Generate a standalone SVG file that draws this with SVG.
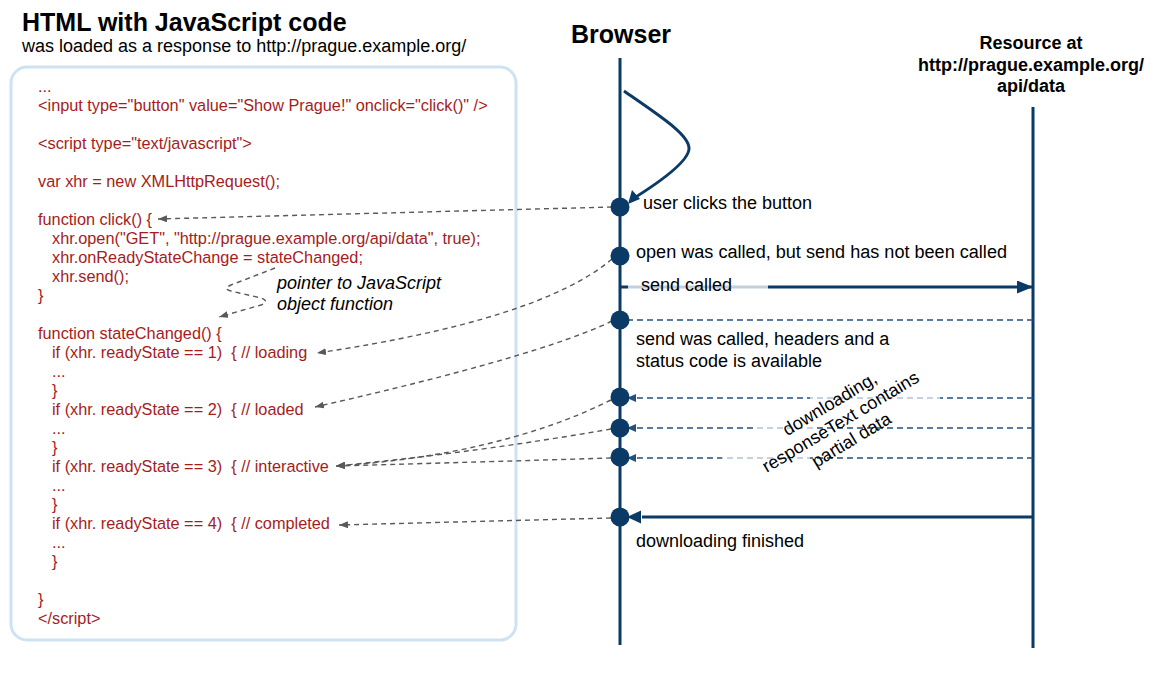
<svg xmlns="http://www.w3.org/2000/svg" width="1153" height="675" viewBox="0 0 1153 675">
<defs>
<style>
text{font-family:"Liberation Sans",Arial,Helvetica,sans-serif}
.title{font-size:25px;font-weight:bold;fill:#000}
.sub{font-size:18px;fill:#000}
.code{font-size:16.3px;fill:#a61c1c;white-space:pre}
.hdr{font-size:25px;font-weight:bold;fill:#000}
.rhdr{font-size:18px;font-weight:bold;fill:#000}
.lbl{font-size:18px;fill:#000}
.note{font-size:18px;font-style:italic;fill:#000}
.life{stroke:#0b3a66;stroke-width:3;fill:none}
.dot{fill:#0b3a66}
.dash{stroke:#595959;stroke-width:1.4;stroke-dasharray:5 4;fill:none;marker-end:url(#ga)}
.hdash{stroke:#25507d;stroke-width:1.5;stroke-dasharray:6 4;fill:none}
</style>
<marker id="ga" markerUnits="userSpaceOnUse" markerWidth="9" markerHeight="7" refX="9" refY="3.5" orient="auto"><path d="M0,0 L9,3.5 L0,7 z" fill="#595959"/></marker>
<marker id="na" markerUnits="userSpaceOnUse" markerWidth="16" markerHeight="13" refX="16" refY="6.5" orient="auto"><path d="M0,0 L16,6.5 L0,13 z" fill="#0b3a66"/></marker>
<marker id="ns" markerUnits="userSpaceOnUse" markerWidth="9" markerHeight="8" refX="9" refY="4" orient="auto"><path d="M0,0 L9,4 L0,8 z" fill="#25507d"/></marker>
</defs>
<rect width="1153" height="675" fill="#fff"/>

<g id="title">
<text class="title" x="22" y="31">HTML with JavaScript code</text>
<text class="sub" x="22" y="52">was loaded as a response to http://prague.example.org/</text>
</g>

<g id="code-box">
<rect x="11" y="67" width="505" height="573" rx="16" ry="16" fill="none" stroke="#cfe2f3" stroke-width="3"/>
<text class="code" x="38" y="92">...</text>
<text class="code" x="38" y="111">&lt;input type="button" value="Show Prague!" onclick="click()" /&gt;</text>
<text class="code" x="38" y="149">&lt;script type="text/javascript"&gt;</text>
<text class="code" x="38" y="187">var xhr = new XMLHttpRequest();</text>
<text class="code" x="38" y="225">function click() {</text>
<text class="code" x="52" y="244">xhr.open("GET", "http://prague.example.org/api/data", true);</text>
<text class="code" x="52" y="263">xhr.onReadyStateChange = stateChanged;</text>
<text class="code" x="52" y="282">xhr.send();</text>
<text class="code" x="38" y="301">}</text>
<text class="code" x="38" y="339">function stateChanged() {</text>
<text class="code" x="52" y="358">if (xhr. readyState == 1)  { // loading</text>
<text class="code" x="52" y="377">...</text>
<text class="code" x="52" y="396">}</text>
<text class="code" x="52" y="415">if (xhr. readyState == 2)  { // loaded</text>
<text class="code" x="52" y="434">...</text>
<text class="code" x="52" y="453">}</text>
<text class="code" x="52" y="472">if (xhr. readyState == 3)  { // interactive</text>
<text class="code" x="52" y="491">...</text>
<text class="code" x="52" y="510">}</text>
<text class="code" x="52" y="529">if (xhr. readyState == 4)  { // completed</text>
<text class="code" x="52" y="548">...</text>
<text class="code" x="52" y="567">}</text>
<text class="code" x="38" y="605">}</text>
<text class="code" x="38" y="624">&lt;/script&gt;</text>
</g>

<g id="pointer-note">
<text class="note" x="277" y="289">pointer to JavaScript</text>
<text class="note" x="277" y="310">object function</text>
</g>

<g id="browser">
<text class="hdr" x="571" y="43">Browser</text>
<line class="life" x1="620" y1="58" x2="620" y2="645"/>
</g>

<g id="resource">
<text class="rhdr" x="1031" y="49" text-anchor="middle">Resource at</text>
<text class="rhdr" x="1031" y="71" text-anchor="middle">http://prague.example.org/</text>
<text class="rhdr" x="1031" y="92" text-anchor="middle">api/data</text>
<line class="life" x1="1033" y1="107" x2="1033" y2="648"/>
</g>

<g id="connectors">
<path d="M624,91 C660,116 690,135 689,149 C688,162 660,182 631,200" stroke="#0b3a66" stroke-width="3" fill="none"/>
<path d="M628,204 L632,190 L640,199 z" fill="#0b3a66"/>
<line x1="621" y1="287" x2="628" y2="287" stroke="#0b3a66" stroke-width="3"/>
<line x1="628" y1="287" x2="768" y2="287" stroke="#c3d0dc" stroke-width="3"/>
<line x1="768" y1="287" x2="1033" y2="287" stroke="#0b3a66" stroke-width="3" marker-end="url(#na)"/>
<line class="hdash" x1="1033" y1="320" x2="628" y2="320"/>
<line class="hdash" x1="1033" y1="398" x2="627" y2="398" marker-end="url(#ns)"/>
<line class="hdash" x1="1033" y1="428" x2="627" y2="428" marker-end="url(#ns)"/>
<line class="hdash" x1="1033" y1="458" x2="627" y2="458" marker-end="url(#ns)"/>
<g stroke="#fff" stroke-opacity="0.65" stroke-width="3">
<line x1="810" y1="398" x2="940" y2="398"/>
<line x1="757" y1="428" x2="813" y2="428"/>
<line x1="722" y1="458" x2="810" y2="458"/>
</g>
<line x1="1033" y1="517" x2="642" y2="517" stroke="#0b3a66" stroke-width="3"/>
<path d="M627,517 L641,510.5 L641,523.5 z" fill="#0b3a66"/>
<path class="dash" d="M612,207 L158,219"/>
<path class="dash" d="M612,259 Q540,320 317,353"/>
<path class="dash" d="M612,321 Q540,356 315,407"/>
<path class="dash" d="M611,400 Q500,455 336,466"/>
<path class="dash" d="M611,429 Q480,452 336,466"/>
<path class="dash" d="M611,458 Q480,462 336,466"/>
<path class="dash" d="M611,518 L339,525"/>
<path class="dash" d="M275,268 L231,285 Q222,289 231,291 L261,298 Q270,301 261,305 L219,317"/>
</g>

<g id="events">
<circle class="dot" cx="620" cy="207" r="9.5"/>
<text class="lbl" x="643" y="209">user clicks the button</text>
<circle class="dot" cx="620" cy="256" r="9.5"/>
<text class="lbl" x="636" y="258" textLength="371" lengthAdjust="spacingAndGlyphs">open was called, but send has not been called</text>
<text class="lbl" x="641" y="291">send called</text>
<circle class="dot" cx="620" cy="320" r="9.5"/>
<text class="lbl" x="636" y="345">send was called, headers and a</text>
<text class="lbl" x="636" y="367">status code is available</text>
<circle class="dot" cx="620" cy="397" r="9.5"/>
<circle class="dot" cx="620" cy="428" r="9.5"/>
<circle class="dot" cx="620" cy="457" r="9.5"/>
<g transform="translate(840,421) rotate(-31)">
<text class="lbl" x="0" y="-14" text-anchor="middle">downloading,</text>
<text class="lbl" x="0" y="7" text-anchor="middle">responseText contains</text>
<text class="lbl" x="0" y="28" text-anchor="middle">partial data</text>
</g>
<circle class="dot" cx="620" cy="517" r="9.5"/>
<text class="lbl" x="636" y="547">downloading finished</text>
</g>
</svg>
